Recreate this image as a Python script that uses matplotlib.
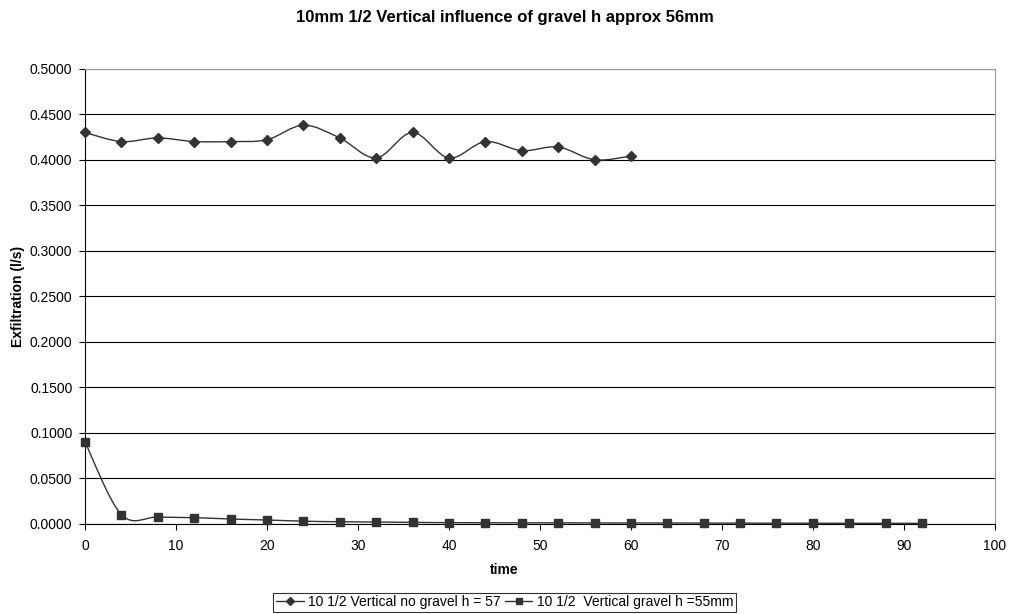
import numpy as np
import matplotlib.pyplot as plt
from matplotlib.path import Path
from matplotlib.patches import PathPatch

plt.rcParams['font.family'] = ['Liberation Sans', 'DejaVu Sans']

# data
time_no_gravel = [0, 4, 8, 12, 16, 20, 24, 28, 32, 36, 40, 44, 48, 52, 56, 60]
exfil_no_gravel = [0.430, 0.420, 0.424, 0.420, 0.420, 0.422, 0.438, 0.424,
                   0.402, 0.430, 0.402, 0.420, 0.410, 0.414, 0.400, 0.404]

time_gravel = [0, 4, 8, 12, 16, 20, 24, 28, 32, 36, 40, 44, 48, 52, 56, 60,
               64, 68, 72, 76, 80, 84, 88, 92]
exfil_gravel = [0.090, 0.010, 0.0074, 0.0067, 0.0052, 0.0041, 0.0028, 0.0022,
                0.0019, 0.0015, 0.0012, 0.0011, 0.0010, 0.0010, 0.0009, 0.0008,
                0.0008, 0.0007, 0.0007, 0.0006, 0.0006, 0.0005, 0.0005, 0.0004]

label_no_gravel = '10 1/2 Vertical no gravel h = 57'
label_gravel = '10 1/2  Vertical gravel h =55mm'


def smooth_path(ax, xs, ys):
    """Excel-style smoothed line: cubic Bezier through the points."""
    # work in display coords so the curve shape matches the screen
    pts = ax.transData.transform(np.column_stack([xs, ys]))
    n = len(pts)
    verts = [pts[0]]
    codes = [Path.MOVETO]
    for i in range(n - 1):
        p0 = pts[i - 1] if i > 0 else pts[i]
        p1 = pts[i]
        p2 = pts[i + 1]
        p3 = pts[i + 2] if i + 2 < n else pts[i + 1]
        c1 = p1 + (p2 - p0) / 6.0
        c2 = p2 - (p3 - p1) / 6.0
        verts += [c1, c2, p2]
        codes += [Path.CURVE4] * 3
    return Path(verts, codes)


fig = plt.figure(figsize=(10.09, 6.14), dpi=100)
ax = fig.add_axes([0.0842, 0.147, 0.9018, 0.741])

ax.set_xlim(0, 100)
ax.set_ylim(0, 0.5)
ax.set_xticks(np.arange(0, 101, 10))
ax.set_yticks(np.arange(0, 0.501, 0.05))
ax.set_yticklabels([f'{v:.4f}' for v in np.arange(0, 0.501, 0.05)])
ax.yaxis.grid(True, color='black', linewidth=0.8)
ax.set_axisbelow(True)
ax.tick_params(axis='both', direction='out', length=4, width=0.8, labelsize=10, colors='black')
ax.tick_params(axis='x', pad=7)
ax.tick_params(axis='y', pad=5)

for s in ['top', 'right']:
    ax.spines[s].set_color('#999999')
for s in ['left', 'bottom']:
    ax.spines[s].set_color('black')

fig.canvas.draw()

line_col = '#333333'
for xs, ys, mk, ms, lab in [(time_no_gravel, exfil_no_gravel, 'D', 5, label_no_gravel),
                            (time_gravel, exfil_gravel, 's', 5.5, label_gravel)]:
    path = smooth_path(ax, xs, ys)
    patch = PathPatch(path, facecolor='none', edgecolor=line_col, linewidth=1.0,
                      transform=None, clip_on=True, zorder=3)
    patch.set_clip_box(ax.bbox)
    ax.add_artist(patch)
    ax.plot(xs, ys, linestyle='none', marker=mk, markersize=ms, color=line_col,
            zorder=4, clip_on=False)
    # legend handle
    ax.plot([], [], linestyle='-', color=line_col, linewidth=1.0, marker=mk,
            markersize=ms - 1, label=lab)

fig.text(0.5, 0.0717, 'time', ha='center', va='center', fontsize=10, fontweight='bold')
fig.text(0.018, 0.518, 'Exfiltration (l/s)', ha='center', va='center', rotation=90,
         fontsize=10, fontweight='bold')
fig.text(0.5, 0.971, '10mm 1/2 Vertical influence of gravel h approx 56mm',
         ha='center', va='center', fontsize=12, fontweight='bold')

leg = fig.legend(loc='center', bbox_to_anchor=(0.5, 0.019), ncol=2, fontsize=10,
                 frameon=True, fancybox=False, edgecolor='black', handlelength=2.0,
                 handletextpad=0.3, columnspacing=0.3, borderpad=0.2, borderaxespad=0)
leg.get_frame().set_linewidth(0.8)

fig.savefig('out.png', dpi=100)
